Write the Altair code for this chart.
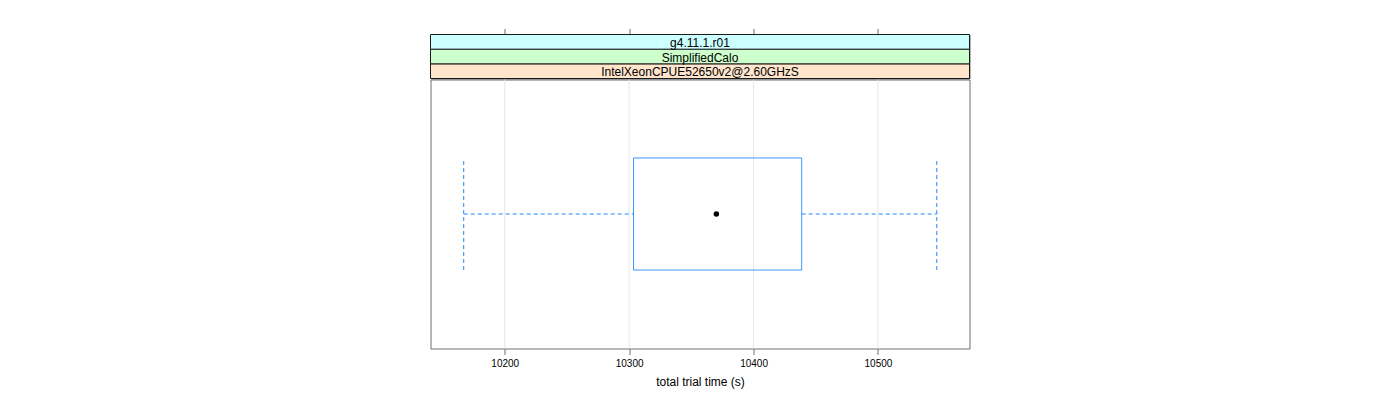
import altair as alt
import pandas as pd

# ---- data ----
strip_labels = ["IntelXeonCPUE52650v2@2.60GHzS", "SimplifiedCalo", "g4.11.1.r01"]
strip_colors = ["#ffe5cc", "#ccffcc", "#ccffff"]
stat_names = ["lower_whisker", "q1", "median", "q3", "upper_whisker"]
stat_values = [10167.0, 10303.5, 10370.1, 10438.7, 10547.3]
tick_values = [10200, 10300, 10400, 10500]
x_domain = [10140.3, 10573.6]
x_title = "total trial time (s)"

FONT = "Liberation Sans"
BOX_COL = "#3d98ff"
WHISK_COL = "#1f88ff"
BORDER = "#6e6e6e"
PANEL_W, PANEL_H, STRIP_H = 539, 269, 44

stats = dict(zip(stat_names, stat_values))
box_df = pd.DataFrame([{**stats, "level": 1.0}])
grid_df = pd.DataFrame({"tick": tick_values})
strip_df = pd.DataFrame({
    "label": strip_labels,
    "color": strip_colors,
    "i": list(range(len(strip_labels))),
})

xs = alt.Scale(domain=x_domain, nice=False, zero=False)
ys = alt.Scale(domain=[0.4, 1.6], nice=False, zero=False)

base = alt.Chart(box_df).transform_calculate(lo="datum.level - 0.25", hi="datum.level + 0.25")

grid = alt.Chart(grid_df).mark_rule(color="#e6e6e6", strokeWidth=1).encode(
    x=alt.X("tick:Q", scale=xs,
            axis=alt.Axis(values=tick_values, title=x_title, grid=False, domain=False,
                          tickSize=6, tickColor=BORDER, labelColor="black",
                          labelFontSize=10, titleFontSize=12, titleFontWeight="normal",
                          titleColor="black", labelPadding=4, titlePadding=8,
                          format="d", labelFont=FONT, titleFont=FONT))
)

dash = [4, 3]
whisk_h_lo = base.mark_rule(color=WHISK_COL, strokeDash=dash).encode(
    x=alt.X("lower_whisker:Q", scale=xs), x2="q1:Q",
    y=alt.Y("level:Q", scale=ys, axis=None))
whisk_h_hi = base.mark_rule(color=WHISK_COL, strokeDash=dash).encode(
    x=alt.X("q3:Q", scale=xs), x2="upper_whisker:Q",
    y=alt.Y("level:Q", scale=ys, axis=None))
whisk_v_lo = base.mark_rule(color=WHISK_COL, strokeDash=dash).encode(
    x=alt.X("lower_whisker:Q", scale=xs),
    y=alt.Y("lo:Q", scale=ys, axis=None), y2="hi:Q")
whisk_v_hi = base.mark_rule(color=WHISK_COL, strokeDash=dash).encode(
    x=alt.X("upper_whisker:Q", scale=xs),
    y=alt.Y("lo:Q", scale=ys, axis=None), y2="hi:Q")
box = base.mark_rect(filled=False, stroke=BOX_COL, strokeWidth=1).encode(
    x=alt.X("q1:Q", scale=xs), x2="q3:Q",
    y=alt.Y("lo:Q", scale=ys, axis=None), y2="hi:Q")
med = base.mark_circle(color="black", opacity=1, size=30).encode(
    x=alt.X("median:Q", scale=xs),
    y=alt.Y("level:Q", scale=ys, axis=None))

panel = alt.layer(grid, whisk_h_lo, whisk_h_hi, whisk_v_lo, whisk_v_hi, box, med).properties(
    width=PANEL_W, height=PANEL_H,
    view=alt.ViewBackground(stroke=BORDER, strokeWidth=1))

ss = alt.Scale(domain=[0, len(strip_labels)], nice=False, zero=False)
strip_rect = alt.Chart(strip_df).transform_calculate(i2="datum.i + 1").mark_rect(
    stroke="#1a1a1a", strokeWidth=1).encode(
    y=alt.Y("i:Q", scale=ss, axis=None), y2="i2:Q",
    fill=alt.Color("color:N", scale=None))
strip_text = alt.Chart(strip_df).transform_calculate(ym="datum.i + 0.5").mark_text(
    font=FONT, fontSize=12, color="black", baseline="middle", dy=1).encode(
    y=alt.Y("ym:Q", scale=ss, axis=None), text="label:N")
top_ticks = alt.Chart(grid_df).mark_rule(opacity=0).encode(
    x=alt.X("tick:Q", scale=xs,
            axis=alt.Axis(orient="top", values=tick_values, labels=False, title=None,
                          grid=False, domain=False, tickSize=6, tickColor=BORDER)))
strips = alt.layer(top_ticks, strip_rect, strip_text).properties(
    width=PANEL_W, height=STRIP_H,
    view=alt.ViewBackground(stroke=BORDER, strokeWidth=1))

chart = alt.vconcat(strips, panel, spacing=-1).properties(
    padding={"left": 429.5, "top": 27.5, "right": 10, "bottom": 5}
).configure(font=FONT)

chart.save("out.html", embed_options={"renderer": "svg", "actions": False})
